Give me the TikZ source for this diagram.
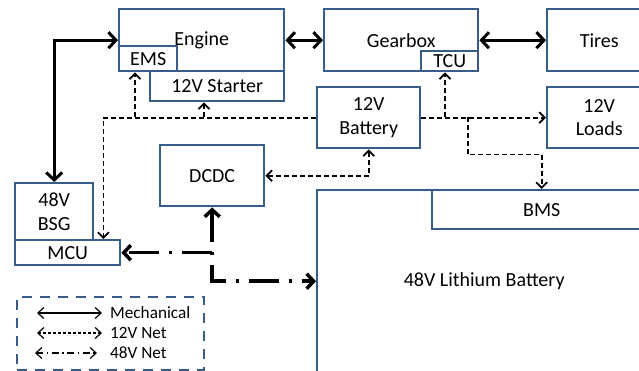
\documentclass[tikz,border=0pt]{standalone}
\usepackage{fontspec}
\setmainfont{Carlito}
\usepackage{tikz}
\usetikzlibrary{arrows.meta,calc}
\definecolor{boxBlue}{RGB}{56,93,138}

\begin{document}
\begin{tikzpicture}[
    x=1pt, y=-1pt,
    blk/.style={rectangle, draw=boxBlue, line width=2.4pt, fill=white, anchor=north west, inner sep=0pt, align=center, font=\fontsize{20}{23.5}\selectfont},
    mech/.style={{Straight Barb[length=7.5pt,width=16pt]}-{Straight Barb[length=7.5pt,width=16pt]}, line width=3pt},
    net12/.style={-{Straight Barb[length=5.5pt,width=11pt]}, line width=1.8pt, dash pattern=on 5pt off 3pt},
    net12both/.style={net12, {Straight Barb[length=5.5pt,width=11pt]}-{Straight Barb[length=5.5pt,width=11pt]}},
    net48/.style={-{Straight Barb[length=7pt,width=15pt]}, line width=3.5pt, dash pattern=on 30pt off 10pt on 3pt off 10pt},
    net48both/.style={net48, {Straight Barb[length=7pt,width=15pt]}-{Straight Barb[length=7pt,width=15pt]}},
    lgtext/.style={anchor=west, inner sep=0pt, font=\fontsize{17.2}{20}\selectfont},
    lgmech/.style={line width=1.2pt, {Straight Barb[length=6pt,width=11pt]}-{Straight Barb[length=6pt,width=11pt]}},
    lg12/.style={lgmech, dash pattern=on 3pt off 2pt},
    lg48/.style={lgmech, dash pattern=on 7pt off 3.5pt on 1.5pt off 3.5pt}
]
\useasboundingbox (0,0) rectangle (639,370);
\clip (0,0) rectangle (639,370);
% blocks
\node[blk, minimum width=165pt, minimum height=62pt] (engine) at (118,8) {Engine};
\node[blk, minimum width=58pt, minimum height=25pt] (ems) at (118,45) {EMS};
\node[blk, minimum width=134pt, minimum height=30pt] (starter) at (149,70) {12V Starter};
\node[blk, minimum width=154pt, minimum height=62pt] (gearbox) at (323,8) {Gearbox};
\node[blk, minimum width=57pt, minimum height=20pt] (tcu) at (420,50) {TCU};
\node[blk, minimum width=104pt, minimum height=62pt] (tires) at (546,8) {Tires};
\node[blk, minimum width=103pt, minimum height=61pt] (batt) at (316,86) {12V\\Battery};
\node[blk, minimum width=104pt, minimum height=61pt] (loads) at (546,86) {12V\\Loads};
\node[blk, minimum width=104pt, minimum height=61pt] (dcdc) at (159,144) {DCDC};
\node[blk, minimum width=78pt, minimum height=57pt] (bsg) at (14,182) {48V\\BSG};
\node[blk, minimum width=105pt, minimum height=25pt] (mcu) at (14,239) {MCU};
\node[blk, minimum width=334pt, minimum height=182pt] (li) at (316,189) {48V Lithium Battery};
\node[blk, minimum width=219pt, minimum height=39pt] (bms) at (431,189) {BMS};
% mechanical links
\draw[mech] (engine.west) -| (bsg.north);
\draw[mech] (engine.east) -- (gearbox.west);
\draw[mech] (gearbox.east) -- (tires.west);
% 12V net
\coordinate (tapEMS) at (135,116.5);
\coordinate (tapST) at (204,116.5);
\coordinate (tapTCU) at (445,116.5);
\coordinate (tapBMS) at (468,116.5);
\draw[net12] (batt.west) -| ($(mcu.north east)+(-18,0)$);
\draw[net12] (tapEMS) -- (tapEMS |- ems.south);
\draw[net12] (tapST) -- (tapST |- starter.south);
\draw[net12] (batt.east) -- (loads.west);
\draw[net12] (tapTCU) -- (tapTCU |- tcu.south);
\draw[net12] (tapBMS) -- ++(0,38) -| (bms.north);
\draw[net12both] (dcdc.east) -| (batt.south);
% 48V net
\draw[net48both] (dcdc.south) |- (li.west);
\draw[net48] (dcdc.south |- mcu.east) -- (mcu.east);
% legend
\node[rectangle, draw=boxBlue, line width=2.4pt, dash pattern=on 10pt off 8pt, anchor=north west, minimum width=187pt, minimum height=73pt] (legend) at (16,296) {};
\node[lgtext] (lgMech) at (110,313) {Mechanical};
\node[lgtext] (lgTwelve) at (110,333) {12V Net};
\node[lgtext] (lgFortyEight) at (110,353) {48V Net};
\coordinate (lgMechS) at (37,313);
\coordinate (lgTwelveS) at (37,333);
\coordinate (lgFortyEightS) at (35,353);
\draw[lgmech] (lgMechS) -- ([xshift=-8pt]lgMech.west);
\draw[lg12] (lgTwelveS) -- ([xshift=-8pt]lgTwelve.west);
\draw[lg48] (lgFortyEightS) -- ([xshift=-13pt]lgFortyEight.west);
\end{tikzpicture}
\end{document}
